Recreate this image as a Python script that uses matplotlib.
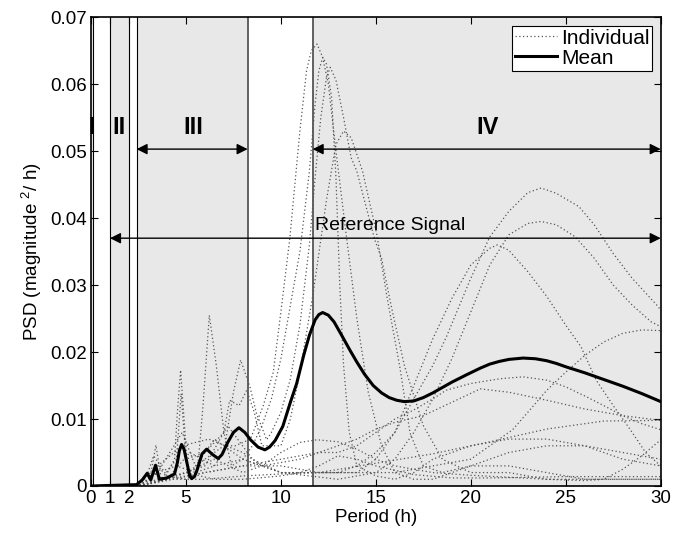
import numpy as np
import matplotlib.pyplot as plt

plt.rcParams['font.family'] = ['Liberation Sans', 'DejaVu Sans']
plt.rcParams['mathtext.fontset'] = 'custom'
plt.rcParams['mathtext.rm'] = 'Liberation Sans'

# Mean PSD curve
mean_x = [0, 2.4, 2.7, 2.96, 3.15, 3.4, 3.6, 4.0, 4.4, 4.55, 4.65, 4.77, 4.9, 5.05,
          5.2, 5.3, 5.45, 5.6, 5.85, 6.09, 6.4, 6.7, 6.9, 7.2, 7.5, 7.79, 8.1, 8.4,
          8.8, 9.16, 9.4, 9.7, 10.1, 10.5, 10.83, 11.2, 11.5, 11.8, 12.0, 12.2, 12.5,
          12.8, 13.2, 13.63, 14.0, 14.4, 14.86, 15.3, 15.7, 16.1, 16.5, 17.0, 17.5,
          18.0, 18.5, 19.0, 19.77, 20.5, 21.0, 21.5, 22.0, 22.75, 23.4, 24.0, 24.5,
          25.0, 26.0, 27.0, 28.0, 29.0, 30.0]
mean_y = [0, 0.0002, 0.0009, 0.0019, 0.0009, 0.0031, 0.0010, 0.0012, 0.0018, 0.0035,
          0.0052, 0.0062, 0.0055, 0.0035, 0.0015, 0.0011, 0.0014, 0.0025, 0.0048,
          0.0055, 0.0047, 0.0041, 0.0047, 0.0065, 0.0080, 0.0087, 0.0080, 0.0069,
          0.0058, 0.0054, 0.0058, 0.0068, 0.0089, 0.0125, 0.0153, 0.0195, 0.0225,
          0.0248, 0.0256, 0.0259, 0.0255, 0.0245, 0.0225, 0.0203, 0.0185, 0.0167,
          0.0150, 0.0139, 0.0132, 0.0128, 0.0126, 0.0127, 0.0132, 0.0139, 0.0147,
          0.0155, 0.0166, 0.0176, 0.0182, 0.0186, 0.0189, 0.0191, 0.0190, 0.0187,
          0.0183, 0.0178, 0.0169, 0.0159, 0.0149, 0.0138, 0.0126]

# Individual PSD curves (x, y) pairs
ind_x = [
    [0, 2.5, 3.0, 3.4, 3.8, 4.4, 4.55, 4.72, 4.9, 5.1, 6.0, 7.0, 7.6, 8.4, 9.07,
     9.6, 10.0, 10.47, 11.0, 11.35, 11.6, 11.9, 12.2, 12.5, 12.9, 13.46, 14.0,
     14.6, 15.3, 16, 17, 18, 19, 20, 22, 24, 26, 28, 30],
    [0, 2.5, 3.0, 3.3, 4.0, 5.0, 5.6, 5.9, 6.23, 6.6, 7.0, 7.4, 8.0, 8.5, 9.0,
     9.5, 10.0, 10.5, 11.0, 11.5, 11.8, 12.0, 12.2, 12.4, 12.67, 12.9, 13.1,
     13.3, 13.6, 14, 15, 16, 17, 18, 20, 22, 24, 26, 28, 30],
    [0, 2.5, 3.5, 4.5, 5.5, 6.5, 7.0, 7.5, 7.88, 8.37, 8.72, 9.25, 9.5, 10.0,
     10.5, 11.0, 11.5, 11.8, 12.1, 12.4, 12.6, 12.9, 13.3, 13.7, 14.0, 14.3,
     14.95, 15.3, 15.8, 16.5, 17.5, 18.5, 20, 22, 24, 26, 28, 30],
    [0, 2.5, 3.1, 3.42, 3.7, 4.5, 4.75, 5.0, 6.0, 7.0, 7.3, 7.8, 8.2, 8.6, 9.0,
     10.0, 10.5, 11.0, 11.7, 12.4, 12.9, 13.3, 13.7, 14.3, 15.04, 15.6, 16.26,
     16.8, 17.5, 18.5, 20, 22, 24, 26, 28, 30],
    [0, 2.5, 3.5, 4.8, 5.5, 6.5, 8, 10, 12, 13, 14, 15, 16, 17, 18, 18.72, 19.95,
     21.0, 22, 23, 23.7, 24.5, 25.7, 26.5, 27.5, 28.5, 29.86, 30],
    [0, 2.5, 4, 5.2, 6.5, 8, 10, 13, 15, 16, 17, 18, 19, 20, 21, 22, 23, 23.7,
     24.5, 25.5, 26.5, 27.5, 28.5, 29.5, 30],
    [0, 2.5, 4, 6, 7.2, 8.5, 10, 12, 14, 15, 16, 17, 18, 19, 20, 21, 21.4, 22, 23,
     24, 25, 25.8, 26.6, 27.5, 28.4, 29.2, 30],
    [0, 2.5, 4, 6, 8, 10, 12, 14, 16, 18, 20, 21, 22.2, 23, 24, 25, 26, 27, 28,
     29, 30],
    [0, 2.5, 3.3, 4.8, 6.2, 8, 9, 11, 12, 13, 14, 15, 16, 16.96, 18, 18.7, 20,
     21.5, 22.75, 24, 25, 26.1, 27, 28, 29, 30],
    [0, 2.5, 4, 5, 6.5, 8, 9, 10, 11, 11.9, 13, 14, 15, 16, 18, 20, 22, 24, 26,
     27, 28, 29, 30],
    [0, 2.5, 3.5, 5, 6.5, 8, 10, 11, 12, 13, 14, 15, 17, 19, 21, 23, 25, 27, 29,
     30],
    [0, 2.5, 4, 6, 8, 10, 12, 15, 18, 21, 24, 27, 30],
    [0, 2.5, 4, 6, 8, 10, 12, 14, 15, 16, 17.5, 19, 20.5, 22, 24, 26, 28, 30],
]
ind_y = [
    [0, 0, 0.0008, 0.002, 0.0008, 0.004, 0.011, 0.0173, 0.010, 0.002, 0.004, 0.006,
     0.006, 0.007, 0.012, 0.017, 0.026, 0.037, 0.053, 0.062, 0.065, 0.066, 0.064,
     0.060, 0.050, 0.037, 0.025, 0.014, 0.006, 0.002, 0.001, 0.001, 0.002, 0.003,
     0.003, 0.002, 0.001, 0.001, 0.001],
    [0, 0, 0.002, 0.0045, 0.0015, 0.001, 0.002, 0.012, 0.0255, 0.018, 0.008, 0.003,
     0.004, 0.006, 0.009, 0.013, 0.019, 0.027, 0.035, 0.047, 0.057, 0.062, 0.064,
     0.063, 0.058, 0.046, 0.030, 0.018, 0.008, 0.003, 0.0015, 0.001, 0.002, 0.004,
     0.006, 0.007, 0.007, 0.006, 0.004, 0.003],
    [0, 0, 0.002, 0.003, 0.002, 0.003, 0.005, 0.014, 0.0188, 0.0148, 0.0108, 0.0069,
     0.008, 0.011, 0.016, 0.024, 0.036, 0.046, 0.055, 0.061, 0.0625, 0.0606, 0.055,
     0.049, 0.047, 0.0437, 0.0367, 0.034, 0.027, 0.018, 0.009, 0.004, 0.002, 0.002,
     0.001, 0.001, 0.001, 0.001],
    [0, 0, 0.001, 0.0061, 0.001, 0.004, 0.0138, 0.004, 0.005, 0.008, 0.0128, 0.012,
     0.0143, 0.011, 0.006, 0.006, 0.010, 0.017, 0.0288, 0.0427, 0.051, 0.053, 0.052,
     0.047, 0.0377, 0.028, 0.0178, 0.0079, 0.003, 0.002, 0.003, 0.005, 0.006, 0.006,
     0.005, 0.004],
    [0, 0, 0.002, 0.008, 0.003, 0.007, 0.004, 0.002, 0.002, 0.002, 0.003, 0.005,
     0.008, 0.013, 0.018, 0.0223, 0.0307, 0.0372, 0.041, 0.0438, 0.0445, 0.0437,
     0.0417, 0.039, 0.0347, 0.031, 0.0268, 0.0262],
    [0, 0, 0.001, 0.005, 0.003, 0.004, 0.002, 0.001, 0.002, 0.004, 0.008, 0.013,
     0.019, 0.026, 0.033, 0.0375, 0.0392, 0.0395, 0.039, 0.0372, 0.034, 0.030,
     0.027, 0.0245, 0.0238],
    [0, 0, 0.001, 0.003, 0.009, 0.004, 0.002, 0.002, 0.002, 0.004, 0.008, 0.015,
     0.022, 0.028, 0.033, 0.0355, 0.036, 0.0352, 0.032, 0.0283, 0.024, 0.0208,
     0.0158, 0.012, 0.0084, 0.005, 0.003],
    [0, 0, 0.001, 0.002, 0.003, 0.003, 0.002, 0.002, 0.002, 0.003, 0.004, 0.006,
     0.0084, 0.011, 0.0143, 0.017, 0.0195, 0.0215, 0.0228, 0.0233, 0.0232],
    [0, 0, 0.0025, 0.006, 0.007, 0.005, 0.003, 0.004, 0.005, 0.005, 0.006, 0.008,
     0.010, 0.0113, 0.013, 0.0143, 0.0153, 0.016, 0.0163, 0.0158, 0.0148, 0.0133,
     0.012, 0.0105, 0.0093, 0.0084],
    [0, 0, 0.001, 0.002, 0.004, 0.002, 0.003, 0.005, 0.0065, 0.0069, 0.0066, 0.0055,
     0.004, 0.003, 0.002, 0.0016, 0.0013, 0.001, 0.0008, 0.001, 0.0025, 0.0045,
     0.0069],
    [0, 0, 0.001, 0.002, 0.001, 0.001, 0.0015, 0.002, 0.003, 0.0045, 0.004, 0.003,
     0.0017, 0.0012, 0.0012, 0.0013, 0.0014, 0.0014, 0.0014, 0.0014],
    [0, 0, 0.001, 0.001, 0.0015, 0.0018, 0.002, 0.0034, 0.0048, 0.0066, 0.0085,
     0.0097, 0.0098],
    [0, 0, 0.0008, 0.002, 0.003, 0.004, 0.005, 0.007, 0.0085, 0.0095, 0.0105, 0.0125,
     0.0145, 0.014, 0.0128, 0.0115, 0.0105, 0.0098],
]

# Frequency bands (start, end)
band_lims = [(0, 0.12), (1, 2), (2.4, 8.25), (11.67, 30)]
band_names = ['I', 'II', 'III', 'IV']
band_label_x = [0.05, 1.5, 5.4, 20.9]
xticks = [0, 1, 2, 5, 10, 15, 20, 25, 30]

fig = plt.figure(figsize=(6.84, 5.37), dpi=100)
ax = fig.add_axes([0.133, 0.095, 0.833, 0.873])

for x0, x1 in band_lims:
    ax.axvspan(x0, x1, color='#e8e8e8', lw=0, zorder=0)
for xv in [0.12, 1, 2, 2.4]:
    ax.axvline(xv, color='k', lw=0.8, zorder=1)
for xv in [8.25, 11.67]:
    ax.axvline(xv, color='#555555', lw=1.3, zorder=1)

for i, (xs, ys) in enumerate(zip(ind_x, ind_y)):
    ax.plot(xs, ys, color='#555555', lw=0.9, ls=(0, (1, 2)), zorder=2,
            label='Individual' if i == 0 else None)
ax.plot(mean_x, mean_y, color='k', lw=2.2, zorder=3, label='Mean')

arrow_kw = dict(arrowstyle='<|-|>', color='k', lw=1, mutation_scale=16,
                shrinkA=0, shrinkB=0)
ax.annotate('', xy=(2.4, 0.0503), xytext=(8.25, 0.0503), arrowprops=arrow_kw, zorder=4)
ax.annotate('', xy=(11.67, 0.0503), xytext=(30, 0.0503), arrowprops=arrow_kw, zorder=4)
ax.annotate('', xy=(1.0, 0.037), xytext=(30, 0.037), arrowprops=arrow_kw, zorder=4)
ax.text(11.8, 0.0376, 'Reference Signal', fontsize=14, va='bottom', ha='left', zorder=4)

for name, lx in zip(band_names, band_label_x):
    ax.text(lx, 0.0536, name, fontsize=17, fontweight='bold', ha='center',
            va='center', zorder=4)

ax.set_xlim(0, 30)
ax.set_ylim(0, 0.07)
ax.set_xticks(xticks)
ax.set_yticks(np.arange(0, 0.071, 0.01))
ax.set_yticklabels(['0', '0.01', '0.02', '0.03', '0.04', '0.05', '0.06', '0.07'])
ax.tick_params(direction='in', top=True, right=True, labelsize=13.5, length=5,
               width=0.8, pad=3)
for s in ax.spines.values():
    s.set_linewidth(1.2)
ax.set_xlabel('Period (h)', fontsize=13.5, labelpad=1)
ax.set_ylabel('PSD (magnitude $^{2}$/ h)', fontsize=13.5, labelpad=4)

leg = ax.legend(loc='upper right', fontsize=15, handlelength=2.0, handletextpad=0.2,
                borderpad=0.15, labelspacing=0.05, fancybox=False, framealpha=1,
                borderaxespad=0.4)
leg.get_frame().set_edgecolor('k')
leg.get_frame().set_linewidth(0.8)

fig.savefig('out.png', dpi=100)
